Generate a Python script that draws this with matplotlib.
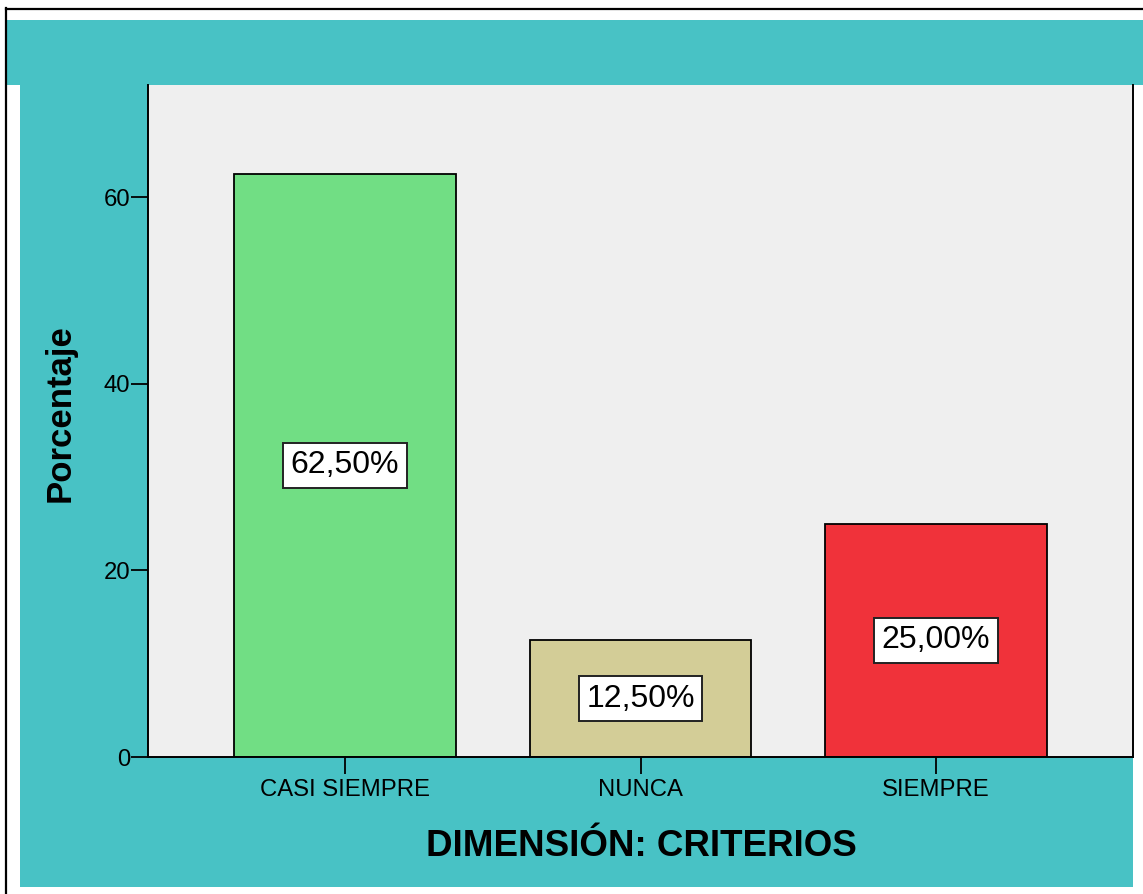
# ================================================================
# 0. Section: IMPORTS
# ================================================================
from matplotlib import pyplot as plt
from matplotlib.patches import Rectangle
from matplotlib.lines import Line2D


# ================================================================
# 1. Section: INPUTS
# ================================================================
CATEGORIES: list = ["CASI SIEMPRE", "NUNCA", "SIEMPRE"]
PERCENTAGES: list = [62.5, 12.5, 25.0]
BAR_LABELS: list = ["62,50%", "12,50%", "25,00%"]
BAR_COLORS: list = ["#71DE84", "#D3CD97", "#F0323A"]
Y_TICKS: list = [0, 20, 40, 60]

X_LABEL: str = "DIMENSIÓN: CRITERIOS"
Y_LABEL: str = "Porcentaje"

TEAL: str = "#48C2C5"
PLOT_BG: str = "#EFEFEF"


# ================================================================
# 2. Section: MAIN
# ================================================================
if __name__ == '__main__':
    plt.rcParams['font.family'] = ['Liberation Sans', 'DejaVu Sans']

    fig = plt.figure(figsize=(11.43, 8.94), dpi=100, facecolor="white")
    W, H = 1143, 894

    # ──────────────────────────────────────────────────────
    # 2.1 Subsection: Background panels (behind the axes)
    # ──────────────────────────────────────────────────────
    fig.patches.append(Rectangle((7 / W, 1 - 85 / H), 1, 65 / H,
                                 transform=fig.transFigure, facecolor=TEAL,
                                 edgecolor="none", zorder=-2))
    fig.patches.append(Rectangle((20 / W, 1 - 887 / H), 1113 / W, 802 / H,
                                 transform=fig.transFigure, facecolor=TEAL,
                                 edgecolor="none", zorder=-2))
    fig.lines.append(Line2D([6 / W, 6 / W], [0, 1 - 8 / H], transform=fig.transFigure,
                            color="black", linewidth=1.6, zorder=-1))
    fig.lines.append(Line2D([6 / W, 1], [1 - 9 / H, 1 - 9 / H], transform=fig.transFigure,
                            color="black", linewidth=1.6, zorder=-1))

    # ──────────────────────────────────────────────────────
    # 2.2 Subsection: Bars
    # ──────────────────────────────────────────────────────
    ax = fig.add_axes([148 / W, 1 - 757 / H, 985 / W, 672 / H])
    ax.set_facecolor(PLOT_BG)

    xs = list(range(len(CATEGORIES)))
    ax.bar(xs, PERCENTAGES, width=0.75, color=BAR_COLORS,
           edgecolor="black", linewidth=1.3, zorder=2)

    for x, val, lab in zip(xs, PERCENTAGES, BAR_LABELS):
        ax.text(x, val / 2, lab, ha="center", va="center", fontsize=23,
                color="black", zorder=3,
                bbox=dict(boxstyle="square,pad=0.24", facecolor="white",
                          edgecolor="#222222", linewidth=1.4))

    ax.set_xlim(-0.667, 2.667)
    ax.set_ylim(0, 72)
    ax.set_xticks(xs)
    ax.set_xticklabels(CATEGORIES, fontsize=17.2)
    ax.set_yticks(Y_TICKS)
    ax.set_yticklabels([str(t) for t in Y_TICKS], fontsize=17.2)
    ax.tick_params(axis="both", length=12, width=1.3, color="black", direction="out")
    ax.tick_params(axis="x", pad=4)
    ax.tick_params(axis="y", pad=1)

    for side in ["left", "bottom", "right"]:
        ax.spines[side].set_linewidth(1.4)
        ax.spines[side].set_color("black")
    ax.spines["top"].set_visible(False)

    fig.text(641 / W, 1 - 846 / H, X_LABEL, ha="center", va="center",
             fontsize=26.5, fontweight="bold")
    fig.text(60 / W, 1 - 413 / H, Y_LABEL, ha="center", va="center",
             fontsize=25, fontweight="bold", rotation=90)

    fig.savefig("out.png", dpi=100, facecolor="white")
